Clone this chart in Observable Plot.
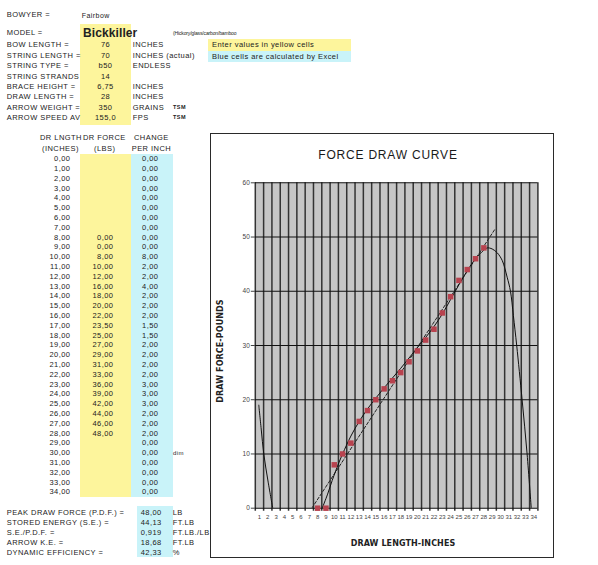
<!DOCTYPE html>
<html>
<head>
<meta charset="utf-8">
<script src="https://cdn.jsdelivr.net/npm/d3@7"></script>
<script src="https://cdn.jsdelivr.net/npm/@observablehq/plot@0.6"></script>
<style>
  body { margin: 0; background: #fff; }
  #page { position: relative; width: 598px; height: 565px; overflow: hidden;
          font-family: "Liberation Sans", Arial, sans-serif; color: #222; }
  .t { position: absolute; white-space: nowrap; letter-spacing: 0.45px; }
  .b { position: absolute; }
</style>
</head>
<body>
<div id="page"></div>
<script>
// ---------------- data ----------------
const bowyer = "Fairbow";
const model = "Bickkiller";
const modelNote = "(Hickory/glass/carbon/bamboo";
const specLabels = ["BOW LENGTH =", "STRING LENGTH =", "STRING TYPE =", "STRING STRANDS", "BRACE HEIGHT =", "DRAW LENGTH =", "ARROW WEIGHT =", "ARROW SPEED AV"];
const specValues = ["76", "70", "b50", "14", "6,75", "28", "350", "155,0"];
const specUnits  = ["INCHES", "INCHES (actual)", "ENDLESS", "", "INCHES", "INCHES", "GRAINS", "FPS"];
const specNotes  = ["", "", "", "", "", "", "TSM", "TSM"];
const legendTexts = ["Enter values in yellow cells", "Blue cells are calculated by Excel"];

const drLength = [0,1,2,3,4,5,6,7,8,9,10,11,12,13,14,15,16,17,18,19,20,21,22,23,24,25,26,27,28,29,30,31,32,33,34];
const drForce  = [null,null,null,null,null,null,null,null,0,0,8,10,12,16,18,20,22,23.5,25,27,29,31,33,36,39,42,44,46,48,null,null,null,null,null,null];
const changePerInch = [0,0,0,0,0,0,0,0,0,0,8,2,2,4,2,2,2,1.5,1.5,2,2,2,2,3,3,3,2,2,2,0,0,0,0,0,0];

const statLabels = ["PEAK DRAW FORCE (P.D.F.) =", "STORED ENERGY (S.E.) =", "S.E./P.D.F. =", "ARROW K.E. =", "DYNAMIC EFFICIENCY ="];
const statValues = ["48,00", "44,13", "0,919", "18,68", "42,33"];
const statUnits  = ["LB", "FT.LB", "FT.LB./LB", "FT.LB", "%"];

// chart axis ticks
const xTicks = [1,2,3,4,5,6,7,8,9,10,11,12,13,14,15,16,17,18,19,20,21,22,23,24,25,26,27,28,29,30,31,32,33,34];
const yTicks = [0,10,20,30,40,50,60];

// trendlines
const polyLeftX = [0.92, 1.21, 1.52, 2.05, 2.6];
const polyLeftY = [19, 14.6, 10, 4.8, 0];
const polyMidX = [8.55, 9.2, 9.75, 10.4, 11, 12, 13, 14, 15, 16, 17, 18, 19, 20, 21, 22, 23, 24, 25, 26, 27, 28, 28.4, 29, 29.6, 30.2, 30.8, 31.2, 31.55, 31.95, 32.6, 33.2, 33.7];
const polyMidY = [0, 2.6, 5.1, 7.8, 10, 13.3, 16, 18.3, 20.3, 22.2, 24, 25.8, 27.7, 29.6, 31.5, 33.5, 35.8, 38.5, 41.2, 43.8, 46, 47.6, 48, 47.8, 47.1, 45.7, 42.6, 40, 35.5, 30, 20, 10, 0];
const linTrendX = [7.3, 29.4];
const linTrendY = [0, 51.6];

// ---------------- page helpers ----------------
const page = document.getElementById("page");
const YELLOW = "#fdf59c", BLUE = "#c9f3f9";
function B(x, y, w, h, bg) {
  const d = document.createElement("div"); d.className = "b";
  Object.assign(d.style, {left: x + "px", top: y + "px", width: w + "px", height: h + "px", background: bg});
  page.appendChild(d); return d;
}
function T(s, x, y, o = {}) {
  const size = o.size || 7.5;
  const d = document.createElement("div"); d.className = "t"; d.textContent = s;
  d.style.fontSize = size + "px"; d.style.lineHeight = size + "px";
  d.style.left = x + "px"; d.style.top = (y - size / 2) + "px";
  const tx = o.align === "right" ? "-100%" : o.align === "center" ? "-50%" : "0";
  d.style.transform = `translateX(${tx})`;
  if (o.weight) d.style.fontWeight = o.weight;
  if (o.family) d.style.fontFamily = o.family;
  if (o.spacing != null) d.style.letterSpacing = o.spacing + "px";
  if (o.color) d.style.color = o.color;
  page.appendChild(d); return d;
}
const fmt = v => v.toFixed(2).replace(".", ",");

// ---------------- spreadsheet ----------------
B(80, 24, 51, 101, YELLOW);
B(208, 39, 143, 12, YELLOW);
B(208, 51, 143, 11, BLUE);
B(80, 154, 50.5, 343, YELLOW);
B(130.5, 154, 42, 343, BLUE);
B(136.5, 506, 36.5, 51, BLUE);

T("BOWYER =", 6.7, 15);
T(bowyer, 81.7, 15, {size: 7});
T("MODEL =", 6.7, 33);
T(model, 83, 32.5, {size: 12, weight: "bold", spacing: 0.1});
T(modelNote, 173, 33, {size: 5, spacing: -0.15});
specLabels.forEach((s, i) => {
  const y = 45 + i * 10.43;
  T(s, 6.7, y);
  T(specValues[i], 105.5, y, {align: "center"});
  if (specUnits[i]) T(specUnits[i], 132.7, y);
  if (specNotes[i]) T(specNotes[i], 173, y, {size: 5.5, weight: "bold"});
});
legendTexts.forEach((s, i) => T(s, 212, 45 + i * 11.5));

T("DR LNGTH", 40, 138);
T("DR  FORCE", 83, 138);
T("CHANGE", 134, 138);
T("(INCHES)", 42, 149);
T("(LBS)", 94, 149);
T("PER INCH", 131.7, 149);
drLength.forEach((v, i) => {
  const y = 159 + i * 9.8;
  T(fmt(v), 70.5, y, {align: "right"});
  if (drForce[i] != null) T(fmt(drForce[i]), 113.5, y, {align: "right"});
  T(fmt(changePerInch[i]), 158.5, y, {align: "right"});
});
T("dim", 173, 159 + 30 * 9.8, {size: 6});

statLabels.forEach((s, i) => {
  const y = 512.3 + i * 10;
  T(s, 6.7, y);
  T(statValues[i], 161.7, y, {align: "right"});
  T(statUnits[i], 172.7, y);
});

// ---------------- chart ----------------
const frameDiv = B(210, 133, 344, 425, "#fff");
frameDiv.style.boxSizing = "border-box";
frameDiv.style.border = "1.5px solid #2a2a2a";

const points = drLength.map((d, i) => ({x: d, y: drForce[i]})).filter(d => d.y != null);
const polyLeft = polyLeftX.map((x, i) => ({x, y: polyLeftY[i]}));
const polyMid = polyMidX.map((x, i) => ({x, y: polyMidY[i]}));
const linTrend = linTrendX.map((x, i) => ({x, y: linTrendY[i]}));
const boundaries = [0.5, ...xTicks.map(t => t + 0.5)];

const CW = 341, CH = 421, CL = 211, CT = 135;
const chart = Plot.plot({
  width: CW, height: CH,
  marginLeft: 254.8 - CL, marginRight: CL + CW - 537.4,
  marginTop: 182.3 - CT, marginBottom: CT + CH - 507.7,
  x: {type: "linear", domain: [0.5, 34.5]},
  y: {domain: [0, 60]},
  style: {fontFamily: "Liberation Sans, Arial, sans-serif", color: "#444", background: "transparent", overflow: "visible"},
  marks: [
    Plot.frame({fill: "#c6c6c6", stroke: null}),
    Plot.ruleX(boundaries, {stroke: "#333", strokeWidth: 1.5, insetBottom: -3}),
    Plot.ruleY(yTicks, {stroke: "#111", strokeWidth: 1.1}),
    Plot.axisY({ticks: yTicks, tickSize: 4, tickPadding: 1.5, fontSize: 6.5, label: null}),
    Plot.axisX({ticks: xTicks, tickSize: 0, tickPadding: 6.5, fontSize: 6, label: null}),
    Plot.line(linTrend, {x: "x", y: "y", stroke: "#222", strokeWidth: 1, strokeDasharray: "3,2", clip: true}),
    Plot.line(polyLeft, {x: "x", y: "y", stroke: "#111", strokeWidth: 1, curve: "catmull-rom", clip: true}),
    Plot.line(polyMid, {x: "x", y: "y", stroke: "#111", strokeWidth: 1, curve: "catmull-rom", clip: true}),
    Plot.dot(points, {x: "x", y: "y", symbol: "square", r: 3.1, fill: "#b8434f", stroke: null})
  ]
});
chart.style.position = "absolute";
chart.style.left = CL + "px";
chart.style.top = CT + "px";
page.appendChild(chart);

T("FORCE DRAW CURVE", 388, 155, {size: 12, align: "center", spacing: 0.8, color: "#1a1a1a"});
T("DRAW LENGTH-INCHES", 403, 544, {size: 8, align: "center", weight: "bold", family: "DejaVu Sans", spacing: 0.1});
const yl = T("DRAW FORCE-POUNDS", 220.7, 351, {size: 8, weight: "bold", family: "DejaVu Sans", spacing: 0.1});
yl.style.transform = "translate(-50%, 0) rotate(-90deg)";
</script>
</body>
</html>
